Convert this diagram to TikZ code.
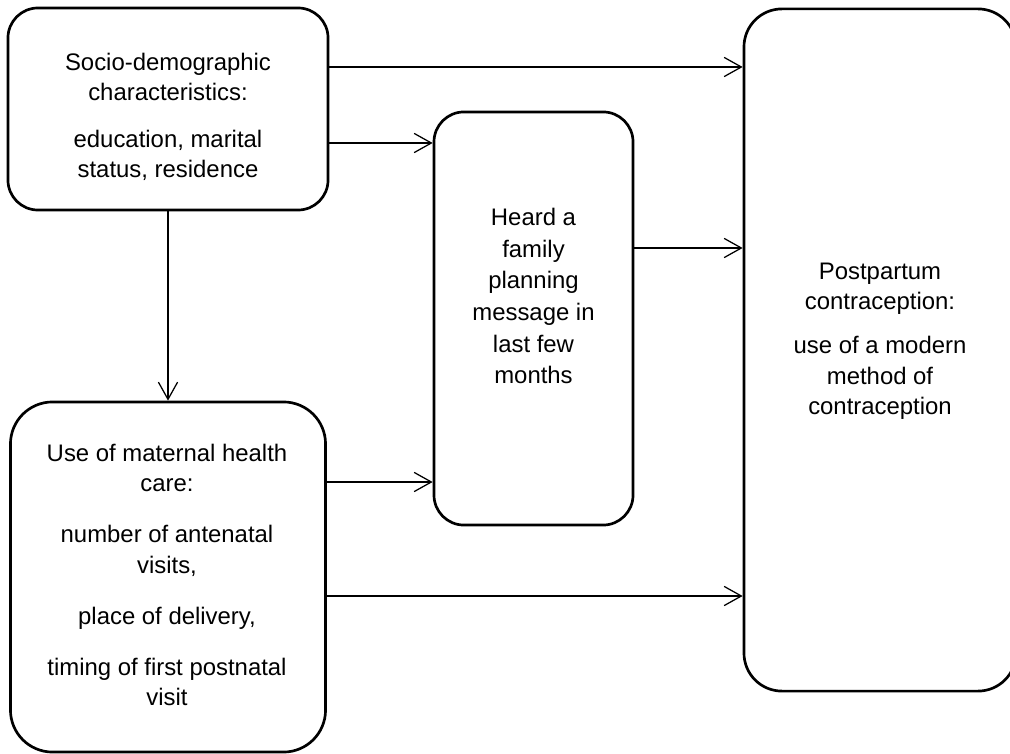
\documentclass[tikz,border=0pt]{standalone}
\usepackage{fontspec}
\setmainfont{Liberation Sans}
\usetikzlibrary{arrows.meta}

\begin{document}
\begin{tikzpicture}[x=0.025cm, y=-0.025cm,
    box/.style={draw, line width=1.9pt, rounded corners=#1},
    box/.default=0.75cm,
    txt/.style={align=center, inner sep=0pt, font=\fontsize{17}{21.5}\selectfont},
    arr/.style={-{Straight Barb[length=4.3mm, width=4.8mm]}, line width=0.9pt}]
  \useasboundingbox (0,0) rectangle (1010,754);

  % boxes
  \node[box, minimum width=8cm, minimum height=5.05cm] (socio) at (168,109) {};
  \node[box, minimum width=4.975cm, minimum height=10.325cm] (heard) at (533.5,318.5) {};
  \node[box=1.05cm, minimum width=7.875cm, minimum height=8.75cm] (care) at (168,577) {};
  \node[box=0.95cm, minimum width=6.8cm, minimum height=17.05cm] (post) at (880,350) {};

  % box texts
  \node[txt] (sociotxt) at (168,117) {Socio-demographic\\characteristics:\\[12pt]education, marital\\status, residence};
  \node[txt, font=\fontsize{17}{22.5}\selectfont] (heardtxt) at (533.5,296) {Heard a\\family\\planning\\message in\\last few\\months};
  \node[txt] (caretxt) at (167,575) {Use of maternal health\\care:\\[15pt]number of antenatal\\visits,\\[15pt]place of delivery,\\[15pt]timing of first postnatal\\visit};
  \node[txt] (posttxt) at (880,341) {Postpartum\\contraception:\\[10pt]use of a modern\\method of\\contraception};

  % paths between the boxes
  \draw[arr] (socio.east |- 0,67) -- (post.west |- 0,67);
  \draw[arr] (socio.east |- 0,143) -- (heard.west |- 0,143);
  \draw[arr] (heard.east |- 0,248) -- (post.west |- 0,248);
  \draw[arr] (socio.south) -- (care.north);
  \draw[arr] (care.east |- 0,482) -- (heard.west |- 0,482);
  \draw[arr] (care.east |- 0,596) -- (post.west |- 0,596);
\end{tikzpicture}
\end{document}
